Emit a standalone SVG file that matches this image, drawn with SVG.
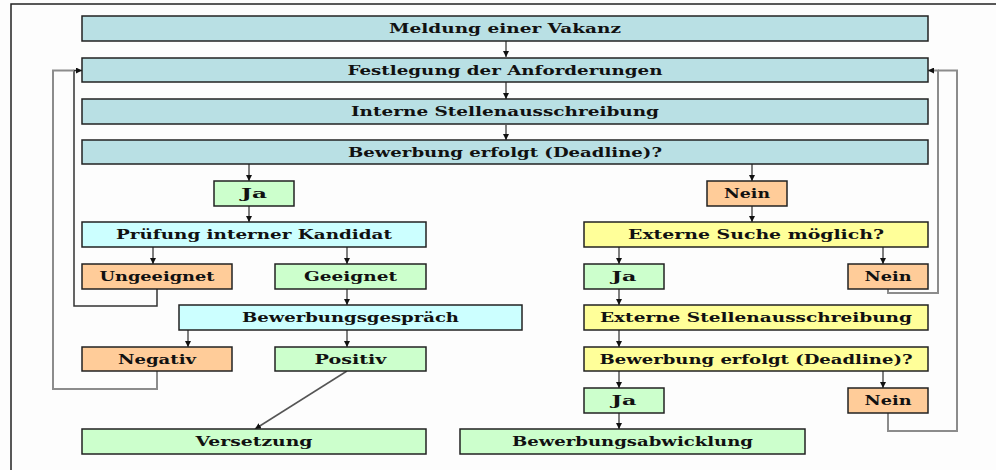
<svg xmlns="http://www.w3.org/2000/svg" width="996" height="470" viewBox="0 0 996 470">
<defs>
<marker id="ah" viewBox="0 0 6 6" refX="6" refY="3" markerWidth="6" markerHeight="6" markerUnits="userSpaceOnUse" orient="auto"><path d="M0,0 L6,3 L0,6 z" fill="#111"/></marker>
</defs>
<style>
.b{stroke:#222;stroke-width:1.5}
.teal{fill:#b9e0e4}.cyan{fill:#ccffff}.green{fill:#ccffcc}.orange{fill:#ffcc99}.yellow{fill:#ffff99}
text{font-family:"DejaVu Serif","Liberation Serif",serif;font-weight:bold;font-size:13px;fill:#111;text-anchor:middle}
.c{fill:none;stroke:#555;stroke-width:1.5}
.l{fill:none;stroke:#8c8c8c;stroke-width:2}
.d{fill:none;stroke:#333;stroke-width:1.5}
</style>
<rect width="996" height="470" fill="#fdfdfd"/>
<path d="M11 470 V4 H996" fill="none" stroke="#222" stroke-width="1.5"/>
<g id="connectors">
<path class="c" d="M506 41 V57" marker-end="url(#ah)"/>
<path class="c" d="M506 82 V99" marker-end="url(#ah)"/>
<path class="c" d="M506 125 V140" marker-end="url(#ah)"/>
<path class="c" d="M249 164 V181" marker-end="url(#ah)"/>
<path class="c" d="M752 164 V181" marker-end="url(#ah)"/>
<path class="c" d="M249 206 V222" marker-end="url(#ah)"/>
<path class="c" d="M153 247 V264" marker-end="url(#ah)"/>
<path class="c" d="M347 247 V264" marker-end="url(#ah)"/>
<path class="c" d="M347 289 V305" marker-end="url(#ah)"/>
<path class="c" d="M188 330 V347" marker-end="url(#ah)"/>
<path class="c" d="M347 330 V347" marker-end="url(#ah)"/>
<path class="c" d="M347 371 L255 429" marker-end="url(#ah)"/>
<path class="c" d="M752 206 V222" marker-end="url(#ah)"/>
<path class="c" d="M619 247 V264" marker-end="url(#ah)"/>
<path class="c" d="M883 247 V264" marker-end="url(#ah)"/>
<path class="c" d="M619 289 V305" marker-end="url(#ah)"/>
<path class="c" d="M619 330 V347" marker-end="url(#ah)"/>
<path class="c" d="M619 371 V388" marker-end="url(#ah)"/>
<path class="c" d="M883 371 V388" marker-end="url(#ah)"/>
<path class="c" d="M619 413 V429" marker-end="url(#ah)"/>
<path class="d" d="M157 289 V306 H74 V70.5 H82" marker-end="url(#ah)"/>
<path class="l" d="M157 371 V389 H53 V70.5 H74"/>
<path class="l" d="M888 289 V293 H938 V70.5 H928" marker-end="url(#ah)"/>
<path class="l" d="M888 413 V431 H957 V70.5 H938"/>
</g>
<g id="meldung"><rect class="b teal" x="82" y="16" width="846" height="25"/><text x="505" y="33" textLength="232" lengthAdjust="spacingAndGlyphs">Meldung einer Vakanz</text></g>
<g id="festlegung"><rect class="b teal" x="82" y="58" width="846" height="24"/><text x="505" y="75" textLength="315" lengthAdjust="spacingAndGlyphs">Festlegung der Anforderungen</text></g>
<g id="interne"><rect class="b teal" x="82" y="99" width="846" height="25"/><text x="505" y="116" textLength="308" lengthAdjust="spacingAndGlyphs">Interne Stellenausschreibung</text></g>
<g id="bewerbung1"><rect class="b teal" x="82" y="140" width="846" height="24"/><text x="505" y="157" textLength="314" lengthAdjust="spacingAndGlyphs">Bewerbung erfolgt (Deadline)?</text></g>
<g id="ja1"><rect class="b green" x="214" y="181" width="80" height="25"/><text x="254" y="198" textLength="26" lengthAdjust="spacingAndGlyphs">Ja</text></g>
<g id="nein1"><rect class="b orange" x="707" y="181" width="80" height="25"/><text x="747" y="198" textLength="46" lengthAdjust="spacingAndGlyphs">Nein</text></g>
<g id="pruefung"><rect class="b cyan" x="82" y="222" width="344" height="25"/><text x="254" y="239" textLength="276" lengthAdjust="spacingAndGlyphs">Prüfung interner Kandidat</text></g>
<g id="ungeeignet"><rect class="b orange" x="82" y="264" width="150" height="25"/><text x="157" y="281" textLength="115" lengthAdjust="spacingAndGlyphs">Ungeeignet</text></g>
<g id="geeignet"><rect class="b green" x="275" y="264" width="151" height="25"/><text x="350.5" y="281" textLength="93" lengthAdjust="spacingAndGlyphs">Geeignet</text></g>
<g id="gespraech"><rect class="b cyan" x="179" y="305" width="343" height="25"/><text x="350.5" y="322" textLength="217" lengthAdjust="spacingAndGlyphs">Bewerbungsgespräch</text></g>
<g id="negativ"><rect class="b orange" x="82" y="347" width="150" height="24"/><text x="157" y="364" textLength="78" lengthAdjust="spacingAndGlyphs">Negativ</text></g>
<g id="positiv"><rect class="b green" x="275" y="347" width="151" height="24"/><text x="350.5" y="364" textLength="72" lengthAdjust="spacingAndGlyphs">Positiv</text></g>
<g id="versetzung"><rect class="b green" x="82" y="429" width="344" height="25"/><text x="254" y="446" textLength="117" lengthAdjust="spacingAndGlyphs">Versetzung</text></g>
<g id="suche"><rect class="b yellow" x="584" y="222" width="344" height="25"/><text x="756" y="239" textLength="256" lengthAdjust="spacingAndGlyphs">Externe Suche möglich?</text></g>
<g id="ja2"><rect class="b green" x="584" y="264" width="80" height="25"/><text x="624" y="281" textLength="25" lengthAdjust="spacingAndGlyphs">Ja</text></g>
<g id="nein2"><rect class="b orange" x="848" y="264" width="80" height="25"/><text x="888" y="281" textLength="47" lengthAdjust="spacingAndGlyphs">Nein</text></g>
<g id="externe"><rect class="b yellow" x="584" y="305" width="344" height="25"/><text x="756" y="322" textLength="312" lengthAdjust="spacingAndGlyphs">Externe Stellenausschreibung</text></g>
<g id="bewerbung2"><rect class="b yellow" x="584" y="347" width="344" height="24"/><text x="756" y="364" textLength="313" lengthAdjust="spacingAndGlyphs">Bewerbung erfolgt (Deadline)?</text></g>
<g id="ja3"><rect class="b green" x="584" y="388" width="80" height="25"/><text x="624" y="405" textLength="25" lengthAdjust="spacingAndGlyphs">Ja</text></g>
<g id="nein3"><rect class="b orange" x="848" y="388" width="80" height="25"/><text x="888" y="405" textLength="47" lengthAdjust="spacingAndGlyphs">Nein</text></g>
<g id="abwicklung"><rect class="b green" x="460" y="429" width="345" height="25"/><text x="632.5" y="446" textLength="241" lengthAdjust="spacingAndGlyphs">Bewerbungsabwicklung</text></g>
</svg>
